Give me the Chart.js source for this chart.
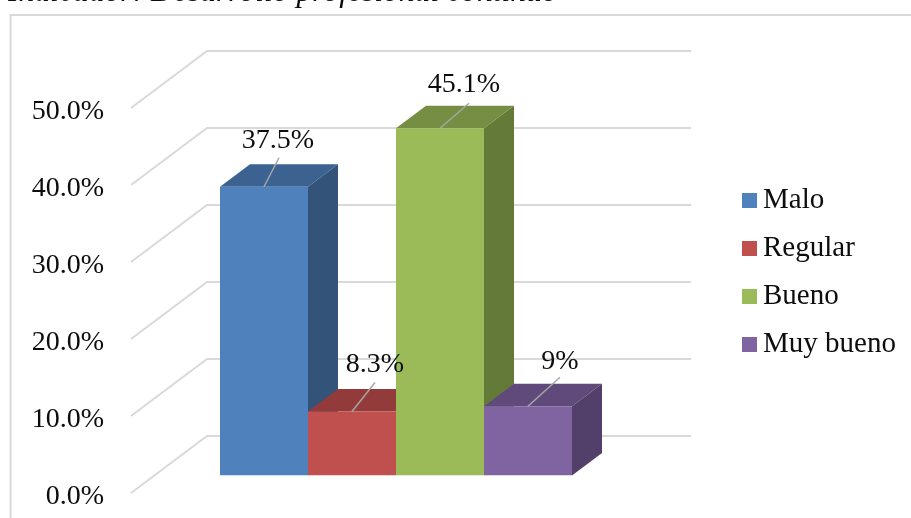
<!DOCTYPE html>
<html>
<head>
<meta charset="utf-8">
<title>Desarrollo profesional continuo</title>
<script src="https://cdn.jsdelivr.net/npm/chart.js@4/dist/chart.umd.min.js"></script>
<style>
  html, body { margin: 0; padding: 0; background: #fff; overflow: hidden; }
  #wrap { position: relative; width: 911px; height: 518px; font-family: "Liberation Serif", serif; color: #0d0d0d; overflow: hidden; }
  #myChart { position: absolute; left: 0; top: 0; }
  #heading { position: absolute; left: 8px; top: -27px; font-size: 31.6px; line-height: 36px; font-style: italic; white-space: nowrap; }
  #legend { position: absolute; left: 742px; top: 174px; font-size: 29px; }
  #legend div { height: 48px; line-height: 48px; white-space: nowrap; }
  #legend span { display: inline-block; width: 15px; height: 15px; margin-right: 6px; }
</style>
</head>
<body>
<div id="wrap">
  <canvas id="myChart" width="911" height="518"></canvas>
  <div id="heading">Indicador: Desarrollo profesional continuo</div>
  <div id="legend"></div>
</div>
<script>
"use strict";
const categories = ["Desarrollo profesional continuo"];
const seriesNames = ["Malo", "Regular", "Bueno", "Muy bueno"];
const seriesValues = [37.5, 8.3, 45.1, 9];
const valueLabels = ["37.5%", "8.3%", "45.1%", "9%"];

const frontColors = ["#4f81bd", "#c0504d", "#9bbb59", "#8064a2"];
const topColors = ["#3b6291", "#923b3a", "#768e43", "#604a7b"];
const sideColors = ["#335378", "#7d3231", "#647a39", "#523f6a"];
// where each value label sits, relative to the top middle of its bar
const labelOffsets = [[14, -46], [23, -47], [24, -44], [32, -45]];
const leaderEnds = [[15, -29], [23, -29], [29, -25], [32, -29]];

const gridColor = "#d9d9d9";
const depthX = 30;
const depthY = 22.5;
const barShift = 17.5; // bars stand a bit above the front edge of the floor
const axisBottom = 493;
const tickShift = 3.5; // tick text sits a little under its wall line

const frame = {
  id: "frame",
  beforeDraw(chart) {
    const c = chart.ctx;
    c.strokeStyle = gridColor;
    c.lineWidth = 2;
    c.beginPath();
    c.moveTo(10.5, 518);
    c.lineTo(10.5, 15);
    c.lineTo(911, 15);
    c.stroke();
    c.save();
    c.translate(0, tickShift); // undone in walls.beforeDatasetsDraw
  },
};

const walls = {
  id: "walls",
  // layout leaves too much room under the hidden x axis, so pin the bottom
  afterLayout(chart) {
    const y = chart.scales.y;
    y.bottom = axisBottom;
    y.height = axisBottom - y.top;
    y.configure();
    chart.chartArea.bottom = axisBottom;
    chart.chartArea.height = y.height;
  },
  beforeDatasetsDraw(chart) {
    const c = chart.ctx;
    c.restore();
    const area = chart.chartArea;
    const y = chart.scales.y;
    c.strokeStyle = gridColor;
    c.lineWidth = 2;
    y.ticks.forEach((t) => {
      const py = y.getPixelForValue(t.value);
      c.beginPath();
      c.moveTo(area.left, py);
      c.lineTo(area.left + 76, py - 57);
      c.lineTo(area.right + 30, py - 57);
      c.stroke();
    });
    c.save();
    c.translate(0, -barShift);
    // tops and sides go left to right, the front faces come after them
    seriesNames.forEach((name, i) => {
      const bar = chart.getDatasetMeta(i).data[0];
      const p = bar.getProps(["x", "y", "base", "width"], true);
      const left = p.x - p.width / 2;
      const right = p.x + p.width / 2;
      c.fillStyle = topColors[i];
      c.beginPath();
      c.moveTo(left, p.y);
      c.lineTo(left + depthX, p.y - depthY);
      c.lineTo(right + depthX, p.y - depthY);
      c.lineTo(right, p.y);
      c.closePath();
      c.fill();
      c.fillStyle = sideColors[i];
      c.beginPath();
      c.moveTo(right, p.y);
      c.lineTo(right + depthX, p.y - depthY);
      c.lineTo(right + depthX, p.base - depthY);
      c.lineTo(right, p.base);
      c.closePath();
      c.fill();
    });
  },
  afterDatasetsDraw(chart) {
    const c = chart.ctx;
    c.restore();
    c.font = '28px "Liberation Serif"';
    c.textAlign = "center";
    c.textBaseline = "middle";
    seriesValues.forEach((v, i) => {
      const p = chart.getDatasetMeta(i).data[0].getProps(["x", "y"], true);
      const top = p.y - barShift;
      c.strokeStyle = "#a6a6a6";
      c.lineWidth = 1.5;
      c.beginPath();
      c.moveTo(p.x, top);
      c.lineTo(p.x + leaderEnds[i][0], top + leaderEnds[i][1]);
      c.stroke();
      c.fillStyle = "#0d0d0d";
      c.fillText(valueLabels[i], p.x + labelOffsets[i][0], top + labelOffsets[i][1]);
    });
  },
};

const ctx = document.getElementById("myChart");
const myChart = new Chart(ctx, {
  type: "bar",
  data: {
    labels: categories,
    datasets: seriesNames.map((name, i) => ({
      label: name,
      data: [seriesValues[i]],
      backgroundColor: frontColors[i],
      borderWidth: 0,
    })),
  },
  options: {
    responsive: false,
    animation: false,
    categoryPercentage: 352 / 530,
    barPercentage: 1,
    layout: { padding: { left: 5, right: 250, top: 108, bottom: 5 } },
    plugins: {
      legend: { display: false },
      title: { display: false },
      tooltip: { enabled: false },
    },
    scales: {
      x: { display: false },
      y: {
        min: 0,
        max: 50,
        afterFit(scale) { scale.width = 126; },
        border: { display: false },
        grid: { display: false },
        ticks: {
          stepSize: 10,
          padding: 19,
          color: "#0d0d0d",
          font: { family: '"Liberation Serif"', size: 28 },
          callback: (v) => v.toFixed(1) + "%",
        },
      },
    },
  },
  plugins: [frame, walls],
});

const legendBox = document.getElementById("legend");
myChart.data.datasets.forEach((d) => {
  const row = document.createElement("div");
  const swatch = document.createElement("span");
  swatch.style.background = d.backgroundColor;
  row.appendChild(swatch);
  row.appendChild(document.createTextNode(d.label));
  legendBox.appendChild(row);
});
</script>
</body>
</html>
